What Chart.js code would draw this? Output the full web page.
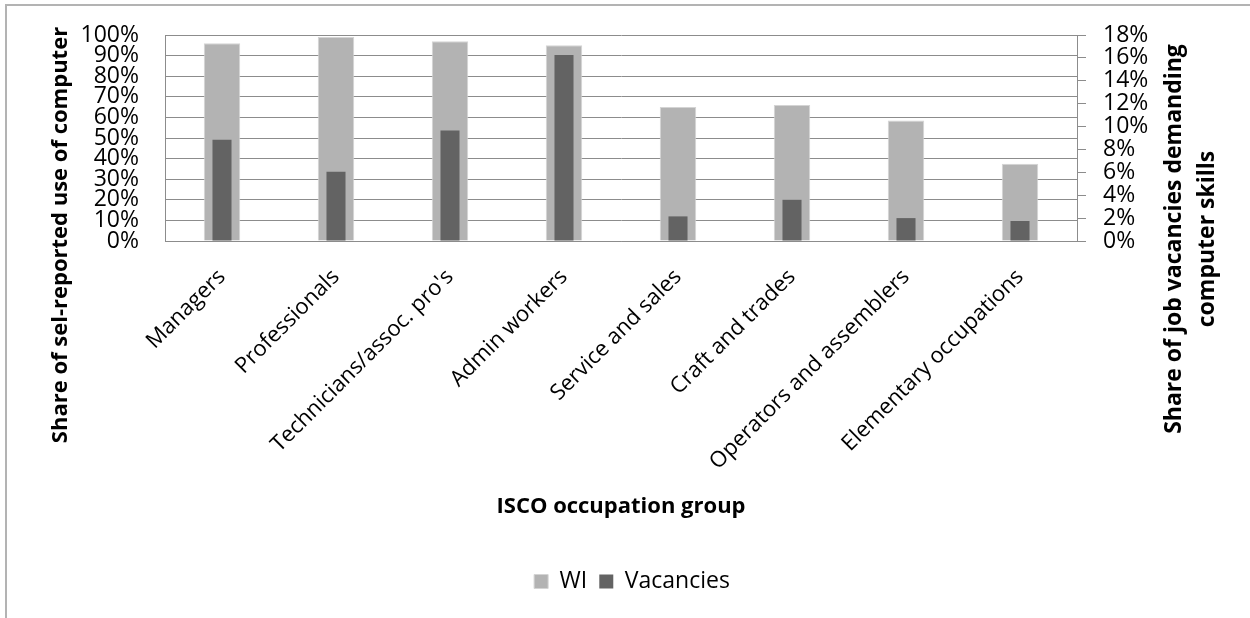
<!DOCTYPE html>
<html>
<head>
<meta charset="utf-8">
<script src="https://cdn.jsdelivr.net/npm/chart.js@4.4.1/dist/chart.umd.min.js"></script>
<style>
  html, body { margin: 0; padding: 0; background: #ffffff; }
  canvas { display: block; }
</style>
</head>
<body>
<canvas id="chart" width="1250" height="618"></canvas>
<script>
// Occupation groups (ISCO major groups)
const categories = [
  'Managers',
  'Professionals',
  "Technicians/assoc. pro's",
  'Admin workers',
  'Service and sales',
  'Craft and trades',
  'Operators and assemblers',
  'Elementary occupations'
];

// Share of workers reporting computer use (%), left axis
const wiShare = [96, 99, 97, 95, 65, 66, 58.5, 37.5];

// Share of job vacancies demanding computer skills (%), right axis
const vacancyShare = [8.85, 6.05, 9.65, 16.25, 2.15, 3.6, 2.0, 1.75];

// Axis ranges and tick steps
const leftAxisMax = 100;
const leftAxisStep = 10;
const rightAxisMax = 18;
const rightAxisStep = 2;

// Titles
const xTitle = 'ISCO occupation group';
const leftTitle = 'Share of sel-reported use of computer';
const rightTitle = ['Share of job vacancies demanding', 'computer skills'];
const seriesNames = ['WI', 'Vacancies'];

const FONT = "'Open Sans', sans-serif";
const GRID = '#8c8c8c';

// Outer frame and the free-standing axis titles
const frameAndTitles = {
  id: 'frameAndTitles',
  beforeDraw(chart) {
    const ctx = chart.ctx;
    ctx.save();
    ctx.strokeStyle = '#b3b3b3';
    ctx.lineWidth = 2;
    ctx.beginPath();
    ctx.moveTo(6, chart.height);
    ctx.lineTo(6, 5);
    ctx.lineTo(chart.width, 5);
    ctx.stroke();
    ctx.restore();
  },
  afterDraw(chart) {
    const { ctx, chartArea: a } = chart;
    ctx.save();
    ctx.fillStyle = '#000000';
    ctx.font = `bold 22px ${FONT}`;
    ctx.textAlign = 'center';
    ctx.textBaseline = 'middle';
    ctx.fillText(xTitle, (a.left + a.right) / 2, a.bottom + 266);
    const vertical = (text, x, y) => {
      ctx.save();
      ctx.translate(x, y);
      ctx.rotate(-Math.PI / 2);
      ctx.fillText(text, 0, 0);
      ctx.restore();
    };
    vertical(leftTitle, a.left - 104, a.bottom - 6);
    ctx.font = `bold 23px ${FONT}`;
    vertical(rightTitle[0], a.right + 97, a.bottom - 2);
    vertical(rightTitle[1], a.right + 130, a.bottom - 2);
    ctx.restore();
  }
};

new Chart(document.getElementById('chart'), {
  type: 'bar',
  data: {
    labels: categories,
    datasets: [
      {
        label: seriesNames[0],
        data: wiShare,
        yAxisID: 'y',
        backgroundColor: '#b3b3b3',
        borderColor: '#d4d4d4',
        borderWidth: 1,
        grouped: false,
        order: 1,
        barPercentage: 0.32,
        categoryPercentage: 1
      },
      {
        label: seriesNames[1],
        data: vacancyShare,
        yAxisID: 'y1',
        backgroundColor: '#636363',
        borderColor: '#6e6e6e',
        borderWidth: 0,
        grouped: false,
        order: 0,
        barPercentage: 0.167,
        categoryPercentage: 1
      }
    ]
  },
  options: {
    responsive: false,
    animation: false,
    devicePixelRatio: 1,
    layout: { padding: { left: 14, right: 0, top: 35, bottom: 15 } },
    plugins: {
      legend: {
        position: 'bottom',
        labels: {
          boxWidth: 14,
          boxHeight: 14,
          padding: 12,
          color: '#000000',
          font: { family: FONT, size: 23 },
          sort: (a, b) => a.datasetIndex - b.datasetIndex
        }
      },
      tooltip: { enabled: false },
      title: { display: false }
    },
    scales: {
      x: {
        grid: { display: false, drawTicks: false },
        border: { display: true, color: GRID, width: 1 },
        ticks: {
          color: '#000000',
          font: { family: FONT, size: 22 },
          minRotation: 45,
          maxRotation: 45,
          autoSkip: false,
          padding: 23
        },
        afterFit(scale) { scale.height = 317; }
      },
      y: {
        position: 'left',
        min: 0,
        max: leftAxisMax,
        // invisible tick marks keep the labels clear of the plot edge
        grid: { color: GRID, lineWidth: 1, drawTicks: true, tickLength: 26, tickColor: 'rgba(0,0,0,0)' },
        border: { display: true, color: GRID, width: 1 },
        ticks: {
          stepSize: leftAxisStep,
          autoSkip: false,
          color: '#000000',
          font: { family: FONT, size: 23 },
          padding: 0,
          callback: v => v + '%'
        },
        afterFit(scale) { scale.width = 151; }
      },
      y1: {
        position: 'right',
        min: 0,
        max: rightAxisMax,
        grid: { drawOnChartArea: false, color: GRID, lineWidth: 1, drawTicks: true, tickLength: 9 },
        border: { display: true, color: GRID, width: 1 },
        ticks: {
          stepSize: rightAxisStep,
          autoSkip: false,
          color: '#000000',
          font: { family: FONT, size: 23 },
          padding: 17,
          callback: v => v + '%'
        },
        afterFit(scale) { scale.width = 173; }
      }
    }
  },
  plugins: [frameAndTitles]
});
</script>
</body>
</html>
